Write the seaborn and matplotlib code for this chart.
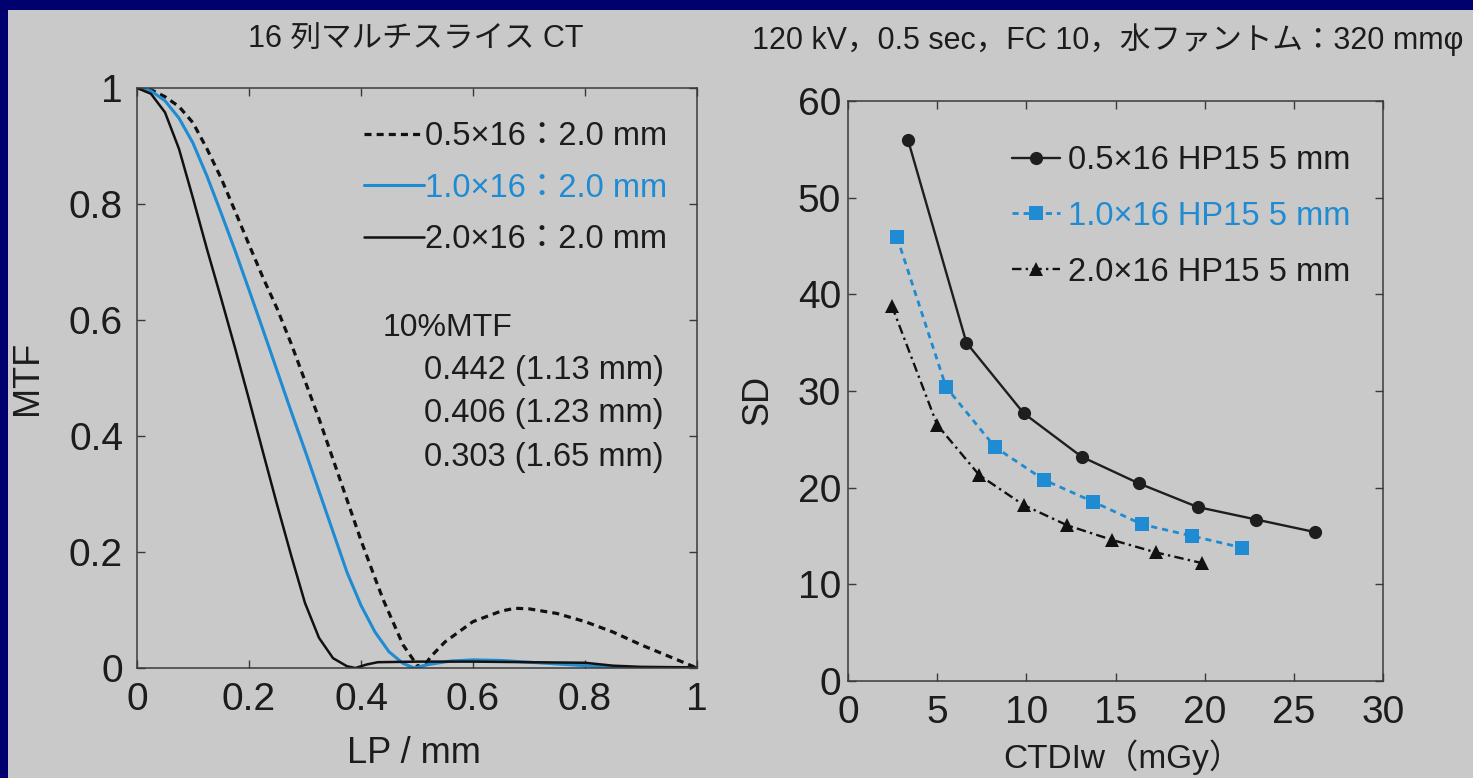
import matplotlib
matplotlib.use("Agg")
import matplotlib.pyplot as plt
from matplotlib.patches import Rectangle
import pandas as pd
import seaborn as sns

# ---- MTF curves (line pairs / mm vs MTF) ----
lp_05 = [0, 0.025, 0.05, 0.075, 0.1, 0.125, 0.15, 0.175, 0.2, 0.225, 0.25, 0.275,
         0.3, 0.325, 0.35, 0.375, 0.4, 0.425, 0.44, 0.45, 0.475, 0.5, 0.51, 0.525,
         0.55, 0.6, 0.65, 0.675, 0.7, 0.75, 0.8, 0.85, 0.9, 0.95, 1.0]
mtf_05 = [1.0, 0.997, 0.985, 0.968, 0.94, 0.895, 0.845, 0.788, 0.73, 0.673, 0.62, 0.56,
          0.495, 0.43, 0.36, 0.29, 0.22, 0.155, 0.117, 0.095, 0.04, 0.005, 0.0, 0.02,
          0.045, 0.08, 0.098, 0.103, 0.102, 0.094, 0.08, 0.062, 0.04, 0.02, 0.0]

lp_10 = [0, 0.025, 0.05, 0.075, 0.1, 0.125, 0.15, 0.175, 0.2, 0.225, 0.25, 0.275,
         0.3, 0.325, 0.35, 0.375, 0.4, 0.425, 0.45, 0.475, 0.495, 0.52, 0.56, 0.6,
         0.65, 0.7, 0.75, 0.8, 0.85, 0.9, 1.0]
mtf_10 = [1.0, 0.995, 0.978, 0.948, 0.905, 0.848, 0.785, 0.72, 0.652, 0.583, 0.513, 0.443,
          0.375, 0.305, 0.235, 0.165, 0.108, 0.062, 0.028, 0.008, 0.0, 0.006, 0.012, 0.014,
          0.013, 0.01, 0.007, 0.004, 0.001, 0.0, 0.0]

lp_20 = [0, 0.025, 0.05, 0.075, 0.1, 0.125, 0.15, 0.175, 0.2, 0.225, 0.25, 0.275,
         0.3, 0.325, 0.35, 0.375, 0.39, 0.41, 0.43, 0.5, 0.6, 0.7, 0.8, 0.85, 0.9, 1.0]
mtf_20 = [1.0, 0.99, 0.958, 0.895, 0.81, 0.722, 0.638, 0.552, 0.463, 0.372, 0.282, 0.195,
          0.112, 0.052, 0.017, 0.003, 0.0, 0.006, 0.01, 0.011, 0.011, 0.01, 0.009, 0.004,
          0.002, 0.001]

mtf_labels = ["0.5×16：2.0 mm", "1.0×16：2.0 mm", "2.0×16：2.0 mm"]
mtf10_title = "10%MTF"
mtf10_values = ["0.442 (1.13 mm)", "0.406 (1.23 mm)", "0.303 (1.65 mm)"]

# ---- image noise (SD) vs dose (CTDIw) ----
ctdi_05 = [3.36, 6.64, 9.85, 13.1, 16.3, 19.6, 22.9, 26.2]
sd_05 = [56.0, 35.0, 27.7, 23.2, 20.45, 18.0, 16.7, 15.4]
ctdi_10 = [2.75, 5.5, 8.24, 11.0, 13.74, 16.5, 19.3, 22.07]
sd_10 = [45.9, 30.4, 24.2, 20.8, 18.55, 16.2, 15.0, 13.8]
ctdi_20 = [2.46, 5.0, 7.36, 9.85, 12.3, 14.8, 17.27, 19.85]
sd_20 = [38.8, 26.5, 21.3, 18.2, 16.1, 14.6, 13.3, 12.2]
sd_labels = ["0.5×16 HP15 5 mm", "1.0×16 HP15 5 mm", "2.0×16 HP15 5 mm"]

mtf_ticks = [0, 0.2, 0.4, 0.6, 0.8, 1.0]
mtf_ticklabels = ["0", "0.2", "0.4", "0.6", "0.8", "1"]
ctdi_ticks = [0, 5, 10, 15, 20, 25, 30]
sd_ticks = [0, 10, 20, 30, 40, 50, 60]

title_left = "16 列マルチスライス CT"
title_right = "120 kV，0.5 sec，FC 10，水ファントム：320 mmφ"

# ---- style ----
sns.set_theme(style="ticks")
plt.rcParams["font.family"] = ["Liberation Sans", "Noto Sans CJK JP", "DejaVu Sans"]

NAVY = "#00006e"
PANEL = "#c9c9c9"
INK = "#1c1c1c"
BLUE = "#1e8bd2"

W, H = 1473, 778
fig = plt.figure(figsize=(W / 100, H / 100), dpi=100, facecolor=NAVY)
fig.patches.append(Rectangle((8 / W, 0), 1 - 8 / W, 1 - 10 / H,
                             transform=fig.transFigure, facecolor=PANEL,
                             edgecolor="none", zorder=-10))

ax1 = fig.add_axes([137 / W, 1 - 668 / H, 560 / W, 580 / H])
ax2 = fig.add_axes([848 / W, 1 - 681 / H, 535 / W, 580 / H])

for ax in (ax1, ax2):
    ax.set_facecolor("none")
    for s in ax.spines.values():
        s.set_color("#3a3a3a")
        s.set_linewidth(1.1)
    ax.tick_params(direction="in", length=6, width=1.0, color="#3a3a3a",
                   top=True, right=True, labelsize=28, labelcolor=INK)

# ---- left panel: MTF ----
mtf_df = pd.concat([
    pd.DataFrame({"lp": lp_05, "mtf": mtf_05, "set": mtf_labels[0]}),
    pd.DataFrame({"lp": lp_10, "mtf": mtf_10, "set": mtf_labels[1]}),
    pd.DataFrame({"lp": lp_20, "mtf": mtf_20, "set": mtf_labels[2]}),
])
mtf_styles = [
    dict(color="#111111", linewidth=2.3, linestyle=(0, (2.2, 1.6))),
    dict(color=BLUE, linewidth=2.2, linestyle="-"),
    dict(color="#111111", linewidth=1.8, linestyle="-"),
]
for lab, st in zip(mtf_labels, mtf_styles):
    sub = mtf_df[mtf_df["set"] == lab]
    sns.lineplot(data=sub, x="lp", y="mtf", ax=ax1, estimator=None, sort=False,
                 label=lab, **st)

ax1.set_xlim(0, 1)
ax1.set_ylim(0, 1)
ax1.set_xticks(mtf_ticks, mtf_ticklabels)
ax1.set_yticks(mtf_ticks, mtf_ticklabels)
ax1.tick_params(axis="x", pad=10)
ax1.tick_params(axis="y", pad=10)
ax1.set_xlabel("LP / mm", fontsize=26, color=INK)
ax1.set_ylabel("MTF", fontsize=26, color=INK)
ax1.xaxis.set_label_coords(0.495, -0.117)
ax1.yaxis.set_label_coords(-0.164, 0.5)

h1, l1 = ax1.get_legend_handles_labels()
ax1.legend(h1, l1, loc="upper left", bbox_to_anchor=(0.405, 0.943),
           frameon=False, fontsize=23.5, handlelength=1.84, handletextpad=0.05,
           labelspacing=0.63, borderpad=0, borderaxespad=0,
           labelcolor=[INK, BLUE, INK])

ax1.text(0.438, 0.587, mtf10_title, transform=ax1.transAxes, fontsize=23,
         color=INK, va="center", ha="left")
for i, v in enumerate(mtf10_values):
    ax1.text(0.513, 0.513 - i * 0.075, v, transform=ax1.transAxes, fontsize=23.5,
             color=INK, va="center", ha="left")

# ---- right panel: SD vs CTDIw ----
sd_df = pd.concat([
    pd.DataFrame({"ctdi": ctdi_05, "sd": sd_05, "set": sd_labels[0]}),
    pd.DataFrame({"ctdi": ctdi_10, "sd": sd_10, "set": sd_labels[1]}),
    pd.DataFrame({"ctdi": ctdi_20, "sd": sd_20, "set": sd_labels[2]}),
])
sd_styles = [
    dict(color="#1e1e1e", linewidth=1.7, linestyle="-", marker="o",
         markersize=9.5, markeredgewidth=0),
    dict(color=BLUE, linewidth=2.0, linestyle=(0, (2.2, 1.8)), marker="s",
         markersize=9.5, markeredgewidth=0),
    dict(color="#111111", linewidth=1.7, linestyle=(0, (4, 1.8, 1, 1.8)), marker="^",
         markersize=10, markeredgewidth=0),
]
for lab, st in zip(sd_labels, sd_styles):
    sub = sd_df[sd_df["set"] == lab]
    sns.lineplot(data=sub, x="ctdi", y="sd", ax=ax2, estimator=None, sort=False,
                 label=lab, **st)

ax2.set_xlim(0, 30)
ax2.set_ylim(0, 60)
ax2.set_xticks(ctdi_ticks, [str(t) for t in ctdi_ticks])
ax2.set_yticks(sd_ticks, [str(t) for t in sd_ticks])
ax2.tick_params(axis="x", pad=10)
ax2.tick_params(axis="y", pad=5)
ax2.set_xlabel("CTDIw（mGy）", fontsize=24, color=INK)
ax2.set_ylabel("SD", fontsize=26, color=INK)
ax2.xaxis.set_label_coords(0.514, -0.1)
ax2.yaxis.set_label_coords(-0.136, 0.484)

h2, l2 = ax2.get_legend_handles_labels()
ax2.legend(h2, l2, loc="upper left", bbox_to_anchor=(0.3065, 0.924),
           frameon=False, fontsize=23.5, handlelength=1.47, handletextpad=0.25,
           labelspacing=0.76, borderpad=0, borderaxespad=0,
           labelcolor=[INK, BLUE, INK])

# ---- panel titles ----
fig.text(416 / W, 1 - 40 / H, title_left, fontsize=22, color=INK,
         ha="center", va="center")
fig.text(1108 / W, 1 - 40 / H, title_right, fontsize=22, color=INK,
         ha="center", va="center")

fig.savefig("out.png", dpi=100, facecolor=NAVY)
